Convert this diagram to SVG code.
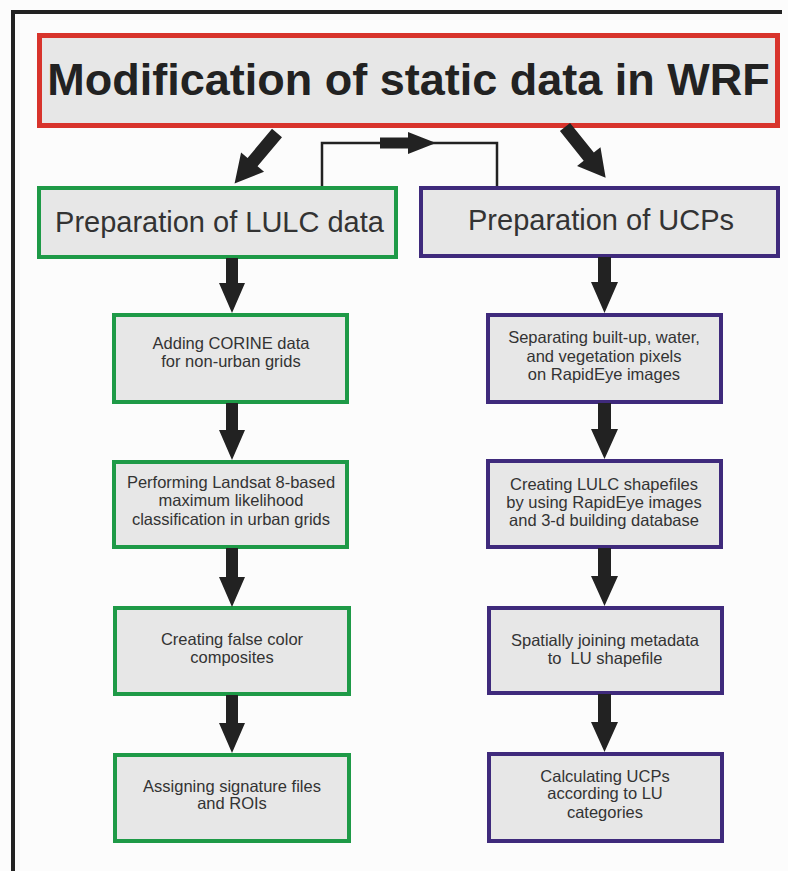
<svg xmlns="http://www.w3.org/2000/svg" width="788" height="871" viewBox="0 0 788 871">
<style>
.box{fill:#e7e7e7;stroke-width:4}
.g{stroke:#1e9a47}
.p{stroke:#3f2a7c}
.t{font-family:"Liberation Sans",Arial,sans-serif;fill:#333;text-anchor:middle;white-space:pre}
.s{font-size:16.5px}
.arr{fill:#222}
</style>
<rect x="0" y="0" width="788" height="871" fill="#fcfcfc"/>
<path d="M13 871 V12 H782" fill="none" stroke="#222" stroke-width="4"/>
<g id="title">
<rect x="39.5" y="35.5" width="738" height="90" fill="#e7e7e7" stroke="#d8342c" stroke-width="5"/>
<text class="t" x="408.5" y="95" font-size="45" font-weight="bold" style="fill:#222">Modification of static data in WRF</text>
</g>
<g id="lulc">
<rect class="box g" x="39" y="188" width="357" height="69"/>
<text class="t" x="219.5" y="232" font-size="29">Preparation of LULC data</text>
</g>
<g id="ucp">
<rect class="box p" x="421" y="188" width="357" height="68"/>
<text class="t" x="601" y="230" font-size="29">Preparation of UCPs</text>
</g>
<g id="l1"><rect class="box g" x="114" y="315" width="233" height="87"/>
<text class="t s" x="231" y="349">Adding CORINE data</text><text class="t s" x="231" y="367">for non-urban grids</text></g>
<g id="l2"><rect class="box g" x="114" y="462" width="233" height="85"/>
<text class="t s" x="231" y="488">Performing Landsat 8-based</text><text class="t s" x="231" y="506">maximum likelihood</text><text class="t s" x="231" y="525">classification in urban grids</text></g>
<g id="l3"><rect class="box g" x="115" y="608" width="234" height="86"/>
<text class="t s" x="232" y="645">Creating false color</text><text class="t s" x="232" y="663">composites</text></g>
<g id="l4"><rect class="box g" x="115" y="755" width="234" height="86"/>
<text class="t s" x="232" y="792">Assigning signature files</text><text class="t s" x="232" y="809">and ROIs</text></g>
<g id="r1"><rect class="box p" x="488" y="315" width="233" height="87"/>
<text class="t s" x="604" y="343">Separating built-up, water,</text><text class="t s" x="604" y="362">and vegetation pixels</text><text class="t s" x="604" y="380">on RapidEye images</text></g>
<g id="r2"><rect class="box p" x="488" y="461" width="233" height="86"/>
<text class="t s" x="604" y="490">Creating LULC shapefiles</text><text class="t s" x="604" y="508">by using RapidEye images</text><text class="t s" x="604" y="526">and 3-d building database</text></g>
<g id="r3"><rect class="box p" x="489" y="608" width="233" height="85"/>
<text class="t s" x="605" y="646">Spatially joining metadata</text><text class="t s" x="605" y="664">to  LU shapefile</text></g>
<g id="r4"><rect class="box p" x="489" y="754" width="233" height="87"/>
<text class="t s" x="605" y="782">Calculating UCPs</text><text class="t s" x="605" y="799">according to LU</text><text class="t s" x="605" y="818">categories</text></g>
<g id="connectors">
<path d="M322 186 V143 H497 V186" fill="none" stroke="#222" stroke-width="2.5"/>
<path class="arr" d="M380 137.5 H408 V132 L436 143 L408 154 V148.5 H380 Z"/>
<path class="arr" transform="translate(277,133) rotate(40)" d="M-6.5 0 H6.5 V38 H15 L0 66 L-15 38 H-6.5 Z"/>
<path class="arr" transform="translate(565,127) rotate(-38.7)" d="M-6.5 0 H6.5 V38 H15 L0 65 L-15 38 H-6.5 Z"/>
<path class="arr" d="M226 258 H238 V283 H245 L232 313 L219 283 H226 Z"/>
<path class="arr" d="M226 403 H238 V430 H245 L232 460 L219 430 H226 Z"/>
<path class="arr" d="M226 548 H238 V577 H245 L232 607 L219 577 H226 Z"/>
<path class="arr" d="M226 695 H238 V723 H245 L232 753 L219 723 H226 Z"/>
<path class="arr" d="M598 257 H611 V282 H618 L604.5 313 L591 282 H598 Z"/>
<path class="arr" d="M598 403 H611 V429 H618 L604.5 459 L591 429 H598 Z"/>
<path class="arr" d="M598 548 H611 V576 H618 L604.5 606 L591 576 H598 Z"/>
<path class="arr" d="M598 694 H611 V722 H618 L604.5 752 L591 722 H598 Z"/>
</g>
</svg>
